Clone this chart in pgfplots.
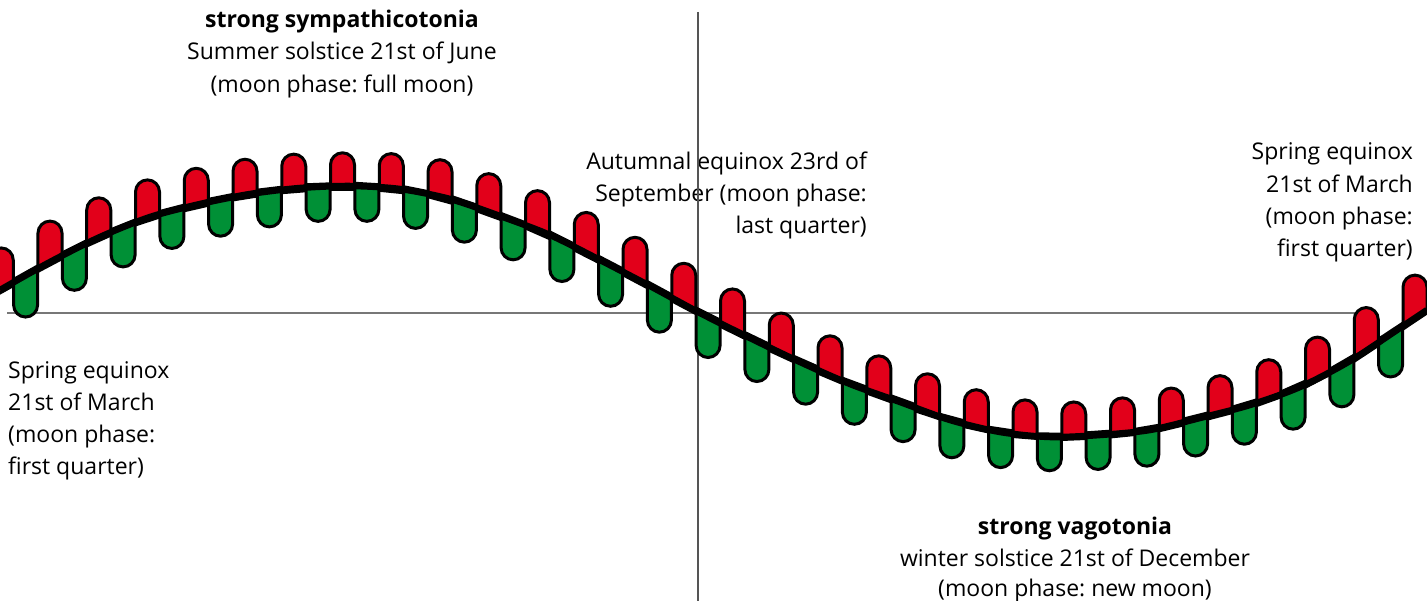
\documentclass[border=0pt]{standalone}
\usepackage{fontspec}
\setmainfont{Open Sans}
\usepackage{pgfplots}
\pgfplotsset{compat=1.18}
\definecolor{redc}{HTML}{E2001A}
\definecolor{greenc}{HTML}{009036}
\definecolor{linec}{HTML}{555555}
\tikzset{lbl/.style={font=\fontsize{23bp}{32bp}\selectfont, inner sep=0pt}}
% red bump: above the curve, base follows the tangent
\pgfdeclareplotmark{rbump}{%
  \pgfmathsetmacro\bH{35+14*abs(\bslope)-13.5}%
  \pgfmathsetmacro\yl{-\bslope*12-3}%
  \pgfmathsetmacro\yr{\bslope*12-3}%
  \pgfpathmoveto{\pgfpoint{-12bp}{\yl bp}}%
  \pgfpathlineto{\pgfpoint{-12bp}{\bH bp}}%
  \pgfpatharc{180}{0}{12bp}%
  \pgfpathlineto{\pgfpoint{12bp}{\yr bp}}%
  \pgfpathclose
  \pgfusepathqfillstroke
}
\pgfdeclareplotmark{gbump}{%
  \pgfmathsetmacro\bH{-(35+14*abs(\bslope)-13.5)}%
  \pgfmathsetmacro\yl{-\bslope*12+3}%
  \pgfmathsetmacro\yr{\bslope*12+3}%
  \pgfpathmoveto{\pgfpoint{-12bp}{\yl bp}}%
  \pgfpathlineto{\pgfpoint{-12bp}{\bH bp}}%
  \pgfpatharc{180}{360}{12bp}%
  \pgfpathlineto{\pgfpoint{12bp}{\yr bp}}%
  \pgfpathclose
  \pgfusepathqfillstroke
}
\pgfplotstableread{
x y m
1.25 289.3 0.56
50 262 0.53
98.75 237.6 0.45
147.5 218 0.33
196.25 205 0.23
245 195 0.16
293.75 188.75 0.08
342.5 186.3 0.0
391.25 188.5 -0.1
440 197 -0.27
488.75 212.2 -0.36
537.5 230.3 -0.44
586.25 253.1 -0.51
635 278.2 -0.53
683.75 304.2 -0.53
732.5 329.3 -0.49
781.25 353 -0.46
830 375.2 -0.42
878.75 394.4 -0.36
927.5 411.9 -0.33
976.25 426.3 -0.22
1025 434.5 -0.08
1073.75 436 0.04
1122.5 432.75 0.1
1171.25 424.9 0.24
1220 412.8 0.26
1268.75 398.25 0.36
1317.5 377.9 0.52
1366.25 350.3 0.66
1415 318 0.67
}\redtab
\pgfplotstableread{
x y m
25.6 275.7 0.56
74.4 249.8 0.5
123.1 227.8 0.4
171.9 211.3 0.26
220.6 199.9 0.2
269.4 191.7 0.12
318.1 187.3 0.04
366.9 187 -0.06
415.6 192.1 -0.2
464.4 203.9 -0.34
513.1 221 -0.38
561.9 241 -0.5
610.6 265.5 -0.52
659.4 291.1 -0.54
708.1 317 -0.5
756.9 341.3 -0.48
805.6 364.5 -0.44
854.4 385.6 -0.37
903.1 403.1 -0.36
951.9 420.5 -0.27
1000.6 432 -0.15
1049.4 437 -0.02
1098.1 435 0.07
1146.9 430.3 0.17
1195.6 419 0.25
1244.4 406.5 0.3
1293.1 389.5 0.44
1341.9 365.2 0.58
1390.6 334.2 0.66
}\greentab
\pgfplotstableread{
x y
0 290
50 262
100 237
150 217
200 204
250 194
300 188
350 186
400 189
450 199
500 216
550 235
600 260
650 286
700 313
750 338
800 362
850 384
900 402
950 420
1000 432
1050 437
1100 435
1150 430
1200 418
1250 405
1300 387
1350 361
1400 328
1427 310
}\curvetab
\begin{document}
\frenchspacing
\begin{tikzpicture}
\begin{axis}[scale only axis, width=1427bp, height=601bp,
  xmin=0, xmax=1427, ymin=0, ymax=601, y dir=reverse,
  axis lines=none, enlargelimits=false, clip=true, clip marker paths=true]
% texts
\node[lbl, anchor=base] at (axis cs:342,28) {\bfseries strong sympathicotonia};
\node[lbl, anchor=base] at (axis cs:342,60) {Summer solstice 21st of June};
\node[lbl, anchor=base] at (axis cs:342,92) {(moon phase: full moon)};
\node[lbl, anchor=base east] at (axis cs:867,169) {Autumnal equinox 23rd of};
\node[lbl, anchor=base east] at (axis cs:867,201) {September (moon phase:};
\node[lbl, anchor=base east] at (axis cs:867,233) {last quarter)};
\node[lbl, anchor=base east] at (axis cs:1413,159) {Spring equinox};
\node[lbl, anchor=base east] at (axis cs:1413,192) {21st of March};
\node[lbl, anchor=base east] at (axis cs:1413,224) {(moon phase:};
\node[lbl, anchor=base east] at (axis cs:1413,256) {first quarter)};
\node[lbl, anchor=base west] at (axis cs:8,378) {Spring equinox};
\node[lbl, anchor=base west] at (axis cs:8,410) {21st of March};
\node[lbl, anchor=base west] at (axis cs:8,442) {(moon phase:};
\node[lbl, anchor=base west] at (axis cs:8,474) {first quarter)};
\node[lbl, anchor=base] at (axis cs:1075,534) {\bfseries strong vagotonia};
\node[lbl, anchor=base] at (axis cs:1075,566) {winter solstice 21st of December};
\node[lbl, anchor=base] at (axis cs:1075,596) {(moon phase: new moon)};
% reference lines
\addplot[linec!80, line width=2bp] coordinates {(7,313) (1366,313)};
\addplot[linec, line width=2.8bp] coordinates {(698,12) (698,601)};
% bumps
\addplot[only marks, mark=rbump, mark options={fill=redc, draw=black, line width=3bp},
  visualization depends on={\thisrow{m}\as\bslope}] table[x=x,y=y] {\redtab};
\addplot[only marks, mark=gbump, mark options={fill=greenc, draw=black, line width=3bp},
  visualization depends on={\thisrow{m}\as\bslope}] table[x=x,y=y] {\greentab};
% main curve
\addplot[black, line width=6.5bp, smooth] table[x=x,y=y] {\curvetab};
\end{axis}
\pgfresetboundingbox
\useasboundingbox (0,0) rectangle (1427bp,601bp);
\end{tikzpicture}
\end{document}
